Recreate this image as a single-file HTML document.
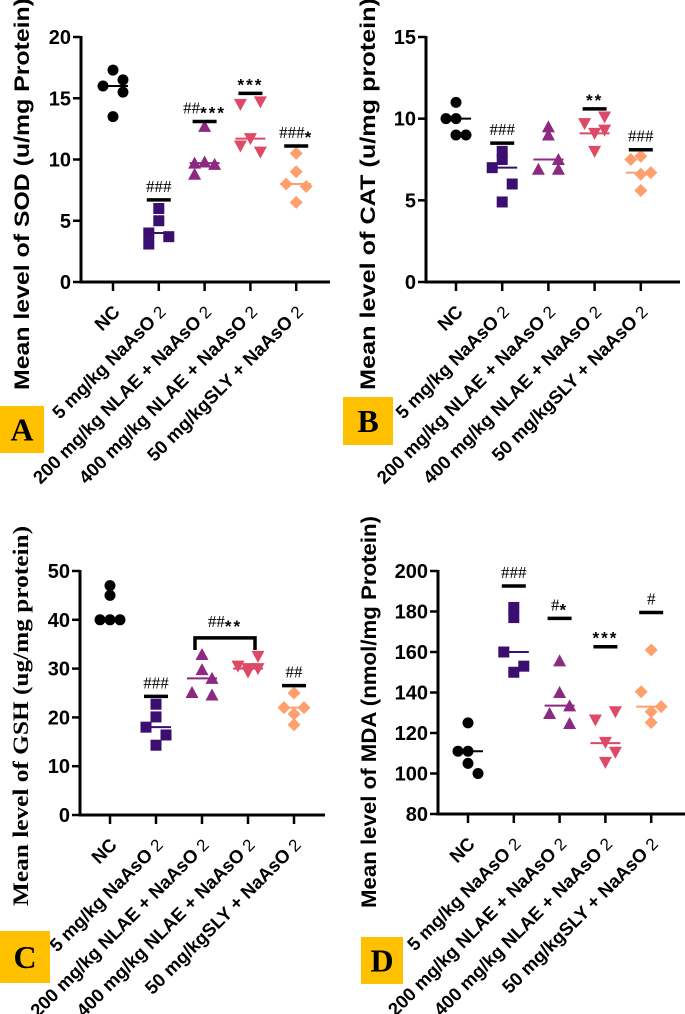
<!DOCTYPE html>
<html><head><meta charset="utf-8"><style>
html,body{margin:0;padding:0;background:#fff}
svg{display:block}
.tk{font-family:"Liberation Sans",Arial,sans-serif;font-weight:bold;font-size:20px}
.gl{font-family:"Liberation Sans",Arial,sans-serif;font-weight:bold;font-size:18.5px}
.sg{font-family:"Liberation Serif",serif;font-size:17px}
.st{font-family:"Liberation Sans",sans-serif;font-weight:bold;font-size:17px}
</style></head><body>
<svg id="fig" width="685" height="1014" viewBox="0 0 685 1014" xmlns="http://www.w3.org/2000/svg"></svg>
<script>
const groups = ["NC","5 mg/kg NaAsO","200 mg/kg NLAE + NaAsO","400 mg/kg NLAE + NaAsO","50 mg/kgSLY + NaAsO"];
const colors = ["#000000","#3b0f70","#8c2981","#de4968","#fe9f6d"];
const markers = ["circle","square","triangle","invtriangle","diamond"];
// SOD
const sodValues = [[17.3,16.5,16.0,15.5,13.5],[6.0,5.0,4.0,3.7,3.1],[12.7,9.8,9.7,9.6,8.8],[14.5,14.7,11.7,10.6,11.1],[10.5,9.0,8.0,7.8,6.5]];
const sodMedians = [16.0,4.0,9.7,11.7,8.0];
const sodBars = [null,6.7,13.1,15.4,11.1];
const sodSig = ["","###","##***","***","###*"];
const sodTicks = [0,5,10,15,20];
// CAT
const catValues = [[11.0,10.0,10.0,9.0,9.0],[8.0,7.5,7.0,6.0,4.9],[9.5,9.0,7.5,6.9,6.9],[10.1,9.7,9.1,9.3,8.0],[7.7,7.5,6.7,6.6,5.6]];
const catMedians = [10.0,7.0,7.5,9.1,6.7];
const catBars = [null,8.5,null,10.6,8.1];
const catSig = ["","###","","**","###"];
const catTicks = [0,5,10,15];
// GSH
const gshValues = [[47.0,45.0,40.0,40.0,40.0],[22.7,20.1,18.0,16.4,14.3],[32.9,29.8,28.0,25.1,24.6],[32.5,30.5,30.0,30.0,29.3],[25.0,22.0,22.0,20.7,18.5]];
const gshMedians = [40.0,18.0,28.0,30.0,22.0];
const gshBars = [null,24.3,null,null,26.5];
const gshSig = ["","###","","","##"];
const gshTicks = [0,10,20,30,40,50];
// MDA
const mdaValues = [[125,111,111,105,100],[182,177,160,153,150],[155.6,140,133.4,129.6,124.7],[130.5,126.4,115.4,110.5,105.5],[161,140.4,133,130.5,125.2]];
const mdaMedians = [111,160,133.5,115,133];
const mdaBars = [null,192.6,176.6,162.6,179.5];
const mdaSig = ["","###","#*","***","#"];
const mdaTicks = [80,100,120,140,160,180,200];
const jitter = [[0,1,-1,1,0],[0,0,-1,1,-1],[0,0,-1,1,-1],[-1,1,0,1,-1],[0,0,-1,1,0]];
const jitterC = [[0,0,-1,0,1],[0,0,-1,1,0],[0,0,1,-1,1],[1,-1,0,1,0],[0,-1,1,0,0]];

const NS="http://www.w3.org/2000/svg";
const svg=document.getElementById('fig');
function mk(tag,attrs,parent){const e=document.createElementNS(NS,tag);for(const k in attrs)e.setAttribute(k,attrs[k]);(parent||svg).appendChild(e);return e;}

function marker(g,type,cx,cy,col){
  const s=5.5;let e;
  if(type==="circle")e=mk('circle',{cx,cy,r:s,fill:col},g);
  else if(type==="square")e=mk('rect',{x:cx-s,y:cy-s,width:2*s,height:2*s,fill:col},g);
  else if(type==="triangle")e=mk('polygon',{points:`${cx},${cy-s-1} ${cx+s+1},${cy+s} ${cx-s-1},${cy+s}`,fill:col},g);
  else if(type==="invtriangle")e=mk('polygon',{points:`${cx-s-1},${cy-s} ${cx+s+1},${cy-s} ${cx},${cy+s+1}`,fill:col},g);
  else e=mk('polygon',{points:`${cx},${cy-s-1} ${cx+s+1},${cy} ${cx},${cy+s+1} ${cx-s-1},${cy}`,fill:col},g);
  return e;
}

function panel(p){
  const g=mk('g',{});
  
  
  const y=v=>p.y0-(v-p.vmin)/(p.vmax-p.vmin)*(p.y0-p.y1);
  const x=i=>p.x0+i*p.dx;
  const ya=mk('line',{x1:p.ax,y1:p.y1-1,x2:p.ax,y2:p.y0+1.5,stroke:'#000','stroke-width':3},g);
  
  
  const xa=mk('line',{x1:p.ax-1.5,y1:p.y0,x2:p.xend,y2:p.y0,stroke:'#000','stroke-width':3},g);
  
  
  p.ticks.forEach(t=>{
    mk('line',{x1:p.ax-8,y1:y(t),x2:p.ax,y2:y(t),stroke:'#000','stroke-width':2.5},g);
    const tl=mk('text',{x:p.ax-10,y:y(t)+7,'text-anchor':'end',class:'tk'},g);
    tl.textContent=t;
    
    
  });
  groups.forEach((gn,i)=>{
    const cx=x(i);
    mk('line',{x1:cx,y1:p.y0,x2:cx,y2:p.y0+9,stroke:'#000','stroke-width':2.5},g);
    const ax=cx+8, ay=p.y0+31;
    const lab=mk('text',{x:ax,y:ay,'text-anchor':'end',class:'gl',transform:`rotate(-45 ${ax} ${ay})`},g);
    
    
    if(i===0){lab.textContent=gn;}
    else{
      const t1=mk('tspan',{},lab);t1.textContent=gn;
      const t2=mk('tspan',{dx:5,'font-weight':'normal','font-size':'17'},lab);t2.textContent='2';
    }
    p.values[i].forEach((v,k)=>{
      const m=marker(g,markers[i],cx+p.jit[i][k]*10,y(v),colors[i]);
      
      
    });
    const md=mk('line',{x1:cx-15,y1:y(p.medians[i]),x2:cx+15,y2:y(p.medians[i]),stroke:colors[i],'stroke-width':2},g);
    
    
    if(p.bars[i]!==null){
      const b=mk('line',{x1:cx-12,y1:y(p.bars[i]),x2:cx+12,y2:y(p.bars[i]),stroke:'#000','stroke-width':3.5},g);
      
      
    }
    if(p.sig[i]){
      sigText(g,cx,y(p.bars[i])-8,p.sig[i]);
    }
  });
  if(p.bracket){
    const bk=p.bracket;
    const a=x(bk.from)-7,b=x(bk.to)+7,yt=y(bk.top),yb=y(bk.bottom);
    const br=mk('polyline',{points:`${a},${yb} ${a},${yt} ${b},${yt} ${b},${yb}`,fill:'none',stroke:'#000','stroke-width':3.5},g);
    
    
    sigText(g,(a+b)/2,yt-11,bk.label);
  }
  const tt=mk('text',{x:p.tx,y:p.ty,'text-anchor':'middle','font-family':p.serif?'"Liberation Serif",serif':'"Liberation Sans",sans-serif','font-weight':'bold','font-size':p.serif?22:21,textLength:p.tlen,lengthAdjust:'spacingAndGlyphs',transform:`rotate(-90 ${p.tx} ${p.ty})`},g);
  tt.textContent=p.title;
  
  
  const bx=mk('rect',{x:p.box[0],y:p.box[1],width:p.box[2],height:p.box[3],fill:'#ffc000'},g);
  
  
  const bl=mk('text',{x:p.box[0]+p.box[2]/2,y:p.box[1]+p.box[3]/2+11,'text-anchor':'middle','font-family':'"Liberation Serif",serif','font-weight':'bold','font-size':32},g);
  bl.textContent=p.letter;
  
  
}
function sigText(g,cx,yy,s){
  const t=mk('text',{x:cx,y:yy,'text-anchor':'middle'},g);
  
  
  const h=s.replace(/\*/g,''),st=s.replace(/#/g,'');
  if(h){const a=mk('tspan',{class:'sg'},t);a.textContent=h;}
  if(st){const b=mk('tspan',{class:'st',dy:5,'letter-spacing':'2'},t);b.textContent=st;}
}

panel({name:'panel-a-sod',ax:81,y0:282,y1:37,vmin:0,vmax:20,x0:113,dx:45.8,xend:330,ticks:sodTicks,values:sodValues,medians:sodMedians,bars:sodBars,sig:sodSig,jit:jitter,title:'Mean level of SOD (u/mg Protein)',tx:29,ty:194,tlen:392,box:[0,406,44,47],letter:'A'});
panel({name:'panel-b-cat',ax:426,y0:282,y1:37,vmin:0,vmax:15,x0:456,dx:46.2,xend:680,ticks:catTicks,values:catValues,medians:catMedians,bars:catBars,sig:catSig,jit:jitterC,title:'Mean level of CAT (u/mg protein)',tx:375,ty:194,tlen:392,box:[343,397,50,48],letter:'B'});
panel({name:'panel-c-gsh',ax:80,y0:815,y1:571,vmin:0,vmax:50,x0:110,dx:46,xend:325,ticks:gshTicks,values:gshValues,medians:gshMedians,bars:gshBars,sig:gshSig,jit:jitterC,title:'Mean level of GSH (ug/mg protein)',tx:28,ty:716,tlen:380,serif:true,bracket:{from:2,to:3,top:36.3,bottom:33.8,label:'##**'},box:[0,931,50,52],letter:'C'});
panel({name:'panel-d-mda',ax:438,y0:814,y1:571,vmin:80,vmax:200,x0:468,dx:45.8,xend:685,ticks:mdaTicks,values:mdaValues,medians:mdaMedians,bars:mdaBars,sig:mdaSig,jit:jitterC,title:'Mean level of MDA (nmol/mg Protein)',tx:376,ty:712,tlen:392,box:[361,937,42,47],letter:'D'});
</script>
</body></html>
